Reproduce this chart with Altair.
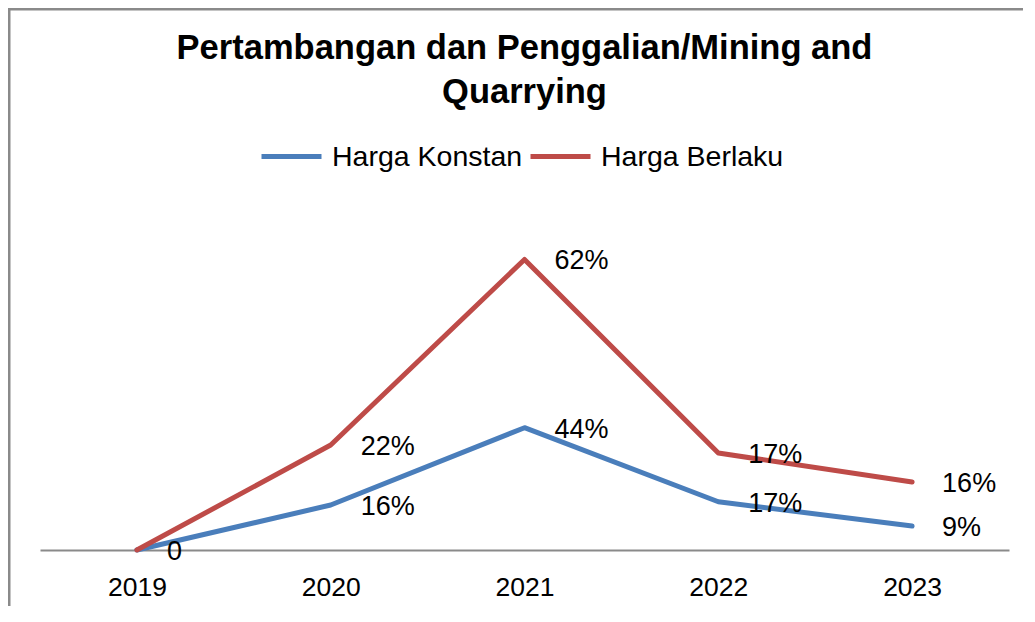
import altair as alt
import pandas as pd

years = ["2019", "2020", "2021", "2022", "2023"]
series_names = ["Harga Konstan", "Harga Berlaku"]
konstan_values = [0, 9.6, 26.1, 10.3, 5.1]
berlaku_values = [0, 22.4, 62.0, 20.7, 14.5]
konstan_labels = ["0", "16%", "44%", "17%", "9%"]
berlaku_labels = ["", "22%", "62%", "17%", "16%"]
colors = ["#4a7ebb", "#be4b48"]
title_lines = ["Pertambangan dan Penggalian/Mining and", "Quarrying"]

rows = []
for name, vals, labs in [(series_names[0], konstan_values, konstan_labels),
                         (series_names[1], berlaku_values, berlaku_labels)]:
    for yr, v, lab in zip(years, vals, labs):
        rows.append({"year": yr, "series": name, "value": v, "label": lab})
df = pd.DataFrame(rows)

W, H = 969, 328
FONT = "Liberation Sans"

x = alt.X("year:O", title=None,
          axis=alt.Axis(labelAngle=0, domainColor="#8a8a8a", domainWidth=2, ticks=False,
                        grid=False, labelFontSize=26.5, labelFont=FONT, labelColor="black",
                        labelPadding=24))
y = alt.Y("value:Q", title=None, axis=None,
          scale=alt.Scale(domain=[0, 70], nice=False, zero=True))

lines = alt.Chart(df).mark_line(strokeWidth=5, strokeCap="round", strokeJoin="round").encode(
    x=x, y=y,
    color=alt.Color("series:N",
                    scale=alt.Scale(domain=series_names, range=colors),
                    sort=series_names,
                    legend=alt.Legend(orient="none", legendX=219, legendY=-98,
                                      direction="horizontal", title=None,
                                      symbolType="stroke", symbolSize=3600,
                                      symbolStrokeWidth=5, labelFontSize=28.5,
                                      labelFont=FONT, labelColor="black",
                                      labelOffset=8, columnPadding=-3, labelLimit=500,
                                      padding=0, symbolOffset=0)),
    order=alt.Order("series:N", sort="descending"),
)

labels = alt.Chart(df).mark_text(align="left", baseline="middle", dx=30, dy=2,
                                 fontSize=27, font=FONT, color="black").encode(
    x=x, y=y, text="label:N")

frame_top = alt.Chart(alt.Data(values=[{}])).mark_rule(color="#8a8a8a", strokeWidth=3).encode(
    x=alt.value(-32), x2=alt.value(W + 14), y=alt.value(-213))
frame_left = alt.Chart(alt.Data(values=[{}])).mark_rule(color="#8a8a8a", strokeWidth=3).encode(
    x=alt.value(-31), y=alt.value(-214), y2=alt.value(H + 56))

chart = alt.layer(frame_top, frame_left, lines, labels).properties(
    width=W, height=H,
    background="white",
    autosize=alt.AutoSizeParams(type="none"),
    padding={"left": 32, "top": 214, "right": 14, "bottom": 56},
    title=alt.TitleParams(text=title_lines, anchor="middle", fontSize=34.5, font=FONT,
                          fontWeight="bold", color="black", lineHeight=44, offset=40,
                          dy=144),
).configure_view(strokeWidth=0)

chart.save("out.html", embed_options={"renderer": "svg", "actions": False})
